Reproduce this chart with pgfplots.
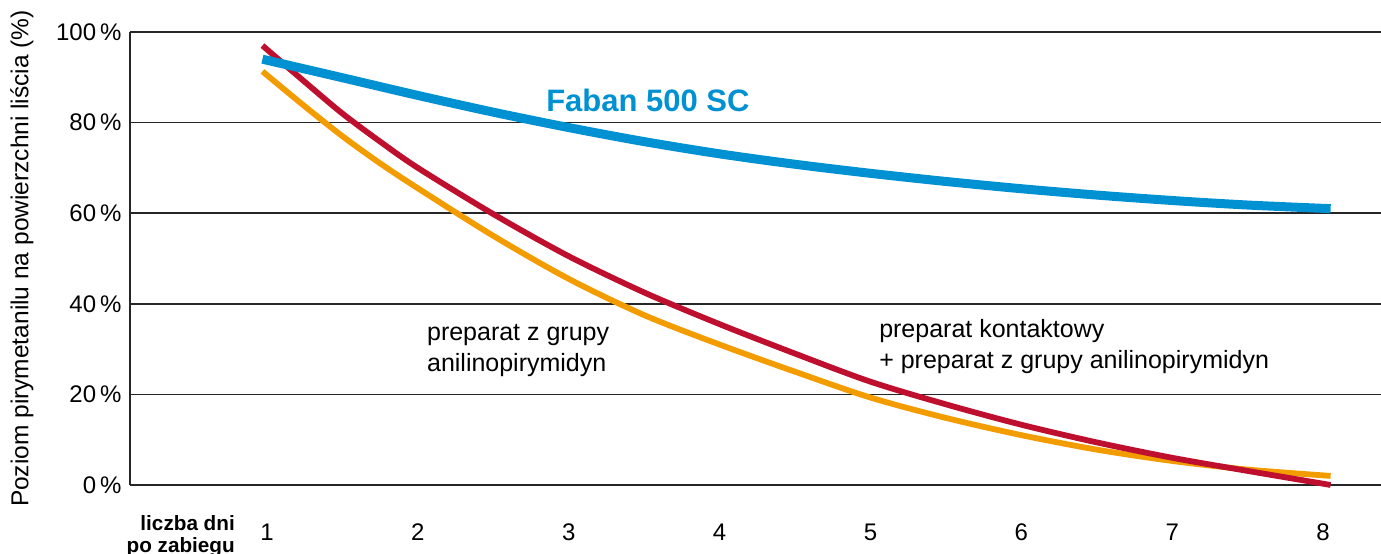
\documentclass[border=0pt]{standalone}
\usepackage{pgfplots}
\pgfplotsset{compat=1.18}
\usepackage{fontspec}
\setmainfont{Liberation Sans}
\definecolor{cblue}{RGB}{0,145,210}
\definecolor{cred}{RGB}{190,16,46}
\definecolor{corange}{RGB}{243,156,0}
\begin{document}
\begin{tikzpicture}
\begin{axis}[
  name=ax,
  scale only axis,
  width=1251pt, height=453pt,
  xmin=0.092, xmax=8.384,
  ymin=0, ymax=100,
  axis lines*=left,
  axis line style={black!85, line width=1.6pt},
  xtick={1,2,3,4,5,6,7,8},
  xticklabels={1,2,3,4,5,6,7,8},
  ytick={0,20,40,60,80,100},
  yticklabels={0\,\%,20\,\%,40\,\%,60\,\%,80\,\%,100\,\%},
  major tick length=0pt,
  ymajorgrids,
  grid style={black!85, line width=1.6pt},
  ticklabel style={font=\fontsize{24}{28}\selectfont},
  xticklabel style={yshift=-35pt},
  yticklabel style={xshift=-5pt},
  clip=false,
]
\addplot[corange, line width=5.8pt, smooth] coordinates {
 (0.97,91.3) (1.25,83.6) (1.5,77.0) (1.75,71.0) (2,65.5) (2.5,55) (3,45.5) (3.5,37.5) (4,31) (4.5,25) (5,19.3) (5.5,14.8) (6,11) (6.5,7.8) (7,5.3) (7.5,3.4) (8.05,2)};
\addplot[cred, line width=5.8pt, smooth] coordinates {
 (0.97,97) (1.25,89) (1.5,82) (1.75,75.8) (2,70) (2.5,59.8) (3,50.5) (3.5,42.5) (4,35.5) (4.5,29) (5,22.8) (5.5,17.8) (6,13.3) (6.5,9.4) (7,6) (7.5,3.1) (8.05,0)};
\addplot[cblue, line width=9pt, smooth] coordinates {
 (0.97,94) (1.5,89.9) (2,86.0) (2.5,82.3) (3,78.9) (3.5,75.8) (4,73.1) (4.5,70.8) (5,68.8) (5.5,67.0) (6,65.4) (6.5,64.0) (7,62.8) (7.5,61.8) (8.05,61.0)};
\node[anchor=west, text=cblue, font=\bfseries\fontsize{31}{36}\selectfont, inner sep=0pt] at (axis cs:2.85,84.9) {Faban 500 SC};
\node[anchor=north west, align=left, font=\fontsize{25}{31}\selectfont, inner sep=0pt] at (axis cs:2.06,35.4) {preparat z grupy\\anilinopirymidyn};
\node[anchor=north west, align=left, font=\fontsize{25}{31}\selectfont, inner sep=0pt] at (axis cs:5.057,36.6) {preparat kontaktowy\\+ preparat z grupy anilinopirymidyn};
\node[anchor=north east, align=right, font=\bfseries\fontsize{20.7}{22}\selectfont, inner sep=0pt] at (axis cs:0.788,-6.6) {liczba dni\\po zabiegu};
\node[rotate=90, font=\fontsize{24.5}{29}\selectfont] at ([xshift=-108pt]rel axis cs:0,0.5) {Poziom pirymetanilu na powierzchni liścia (\%)};
\end{axis}
\pgfresetboundingbox
\path[use as bounding box] ([xshift=-130pt,yshift=-69pt]ax.south west) rectangle ([yshift=32pt]ax.north east);
\end{tikzpicture}
\end{document}
